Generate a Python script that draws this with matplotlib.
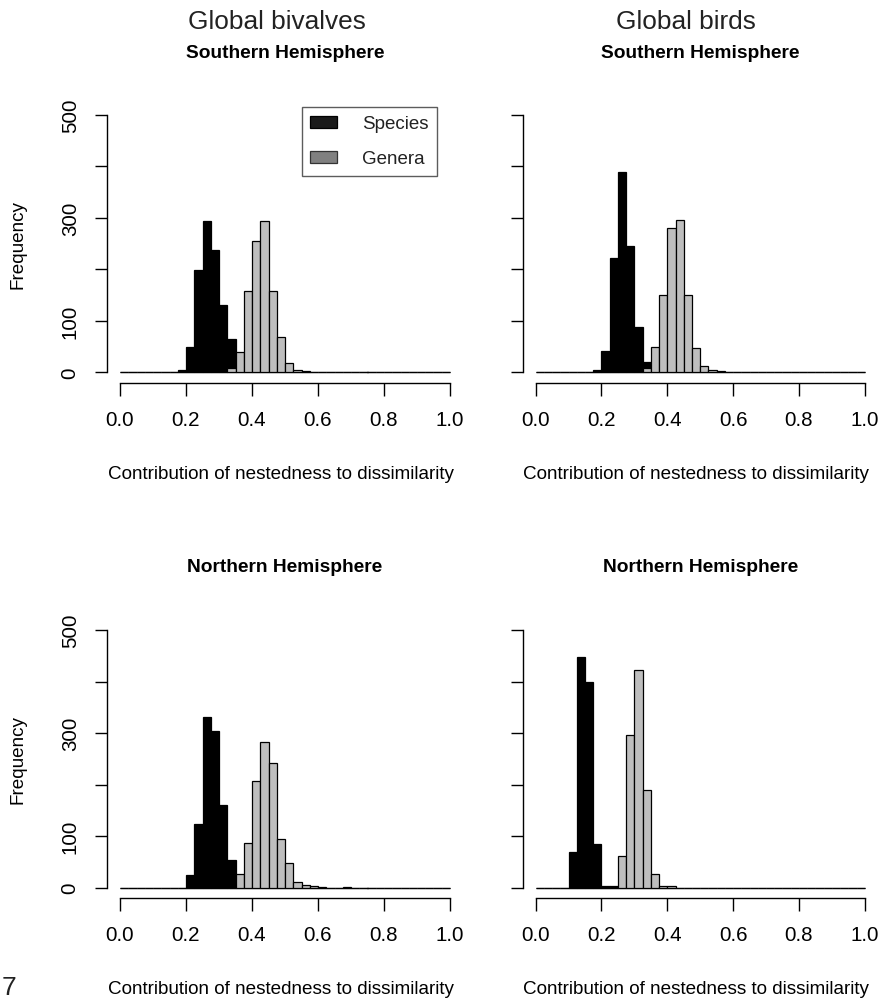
import matplotlib
matplotlib.use("Agg")
import matplotlib.pyplot as plt
from matplotlib.patches import Patch
import numpy as np

plt.rcParams['font.family'] = ['Liberation Sans', 'DejaVu Sans']

# ---------------- data (counts per bin of width 0.025 from 0 to 1) ----------------
bin_width = 0.025
n_bins = 40

bivalves_south_species = [0, 0, 0, 0, 0, 0, 0, 5, 50, 198, 294, 237, 130, 64, 20, 5,
                          0, 0, 0, 0, 0, 0, 0, 0, 0, 0, 0, 0, 0, 0, 0, 0, 0, 0, 0, 0, 0, 0, 0, 0]
bivalves_south_genera = [0, 0, 0, 0, 0, 0, 0, 0, 0, 0, 0, 0, 0, 8, 39, 158, 256, 294, 158, 68,
                         18, 4, 3, 0, 1, 0, 0, 0, 0, 0, 0, 0, 0, 0, 0, 0, 0, 0, 0, 0]
birds_south_species = [0, 0, 0, 0, 0, 0, 0, 4, 41, 222, 389, 245, 88, 21, 5, 0,
                       0, 0, 0, 0, 0, 0, 0, 0, 0, 0, 0, 0, 0, 0, 0, 0, 0, 0, 0, 0, 0, 0, 0, 0]
birds_south_genera = [0, 0, 0, 0, 0, 0, 0, 0, 0, 0, 0, 0, 0, 9, 49, 151, 281, 296, 150, 48,
                      13, 5, 3, 1, 0, 0, 0, 0, 0, 0, 0, 0, 0, 0, 0, 0, 0, 0, 0, 0]
bivalves_north_species = [0, 0, 0, 0, 0, 0, 0, 0, 25, 123, 332, 304, 160, 54, 15, 0,
                          0, 0, 0, 0, 0, 0, 0, 0, 0, 0, 0, 0, 0, 0, 0, 0, 0, 0, 0, 0, 0, 0, 0, 0]
bivalves_north_genera = [0, 0, 0, 0, 0, 0, 0, 0, 0, 0, 0, 0, 0, 0, 26, 87, 207, 283, 242, 95,
                         47, 11, 5, 3, 2, 0, 0, 1, 0, 0, 0, 0, 0, 0, 0, 0, 0, 0, 0, 0]
birds_north_species = [0, 0, 0, 0, 70, 448, 399, 85, 4, 3, 0, 0, 0, 0, 0, 0,
                       0, 0, 0, 0, 0, 0, 0, 0, 0, 0, 0, 0, 0, 0, 0, 0, 0, 0, 0, 0, 0, 0, 0, 0]
birds_north_genera = [0, 0, 0, 0, 0, 0, 0, 0, 0, 2, 61, 296, 422, 189, 26, 4, 3,
                      0, 0, 0, 0, 0, 0, 0, 0, 0, 0, 0, 0, 0, 0, 0, 0, 0, 0, 0, 0, 0, 0, 0]

column_titles = ["Global bivalves", "Global birds"]
panel_titles = ["Southern Hemisphere", "Northern Hemisphere"]
x_ticks = [0.0, 0.2, 0.4, 0.6, 0.8, 1.0]
x_tick_labels = ["0.0", "0.2", "0.4", "0.6", "0.8", "1.0"]
y_ticks = [0, 100, 200, 300, 400, 500]
y_tick_labels = ["0", "100", "", "300", "", "500"]
x_label = "Contribution of nestedness to dissimilarity"
y_label = "Frequency"
legend_labels = ["Species", "Genera"]

# ---------------- figure ----------------
W, H = 882, 1003
fig = plt.figure(figsize=(W / 100, H / 100), dpi=100)


def px_box(left, right, top, bottom):
    return [left / W, 1 - bottom / H, (right - left) / W, (bottom - top) / H]


def fx(x):
    return x / W


def fy(y):
    return 1 - y / H


boxes = {
    (0, 0): px_box(106.8, 463.2, 105.7, 383.6),
    (0, 1): px_box(522.5, 877.9, 105.7, 383.6),
    (1, 0): px_box(106.8, 463.2, 620.7, 899.0),
    (1, 1): px_box(522.5, 877.9, 620.7, 899.0),
}
data = {
    (0, 0): (bivalves_south_species, bivalves_south_genera),
    (0, 1): (birds_south_species, birds_south_genera),
    (1, 0): (bivalves_north_species, bivalves_north_genera),
    (1, 1): (birds_north_species, birds_north_genera),
}

lefts = np.arange(n_bins) * bin_width
axes = {}
for key, box in boxes.items():
    ax = fig.add_axes(box)
    axes[key] = ax
    sp, ge = data[key]
    ax.bar(lefts, sp, width=bin_width, align='edge', color='black',
           edgecolor='black', linewidth=0.9)
    ax.bar(lefts, ge, width=bin_width, align='edge', color='#bebebe',
           edgecolor='black', linewidth=0.9)
    ax.set_xlim(-0.04, 1.04)
    ax.set_ylim(-20, 520)
    for s in ['top', 'right']:
        ax.spines[s].set_visible(False)
    ax.spines['bottom'].set_bounds(0, 1)
    ax.spines['left'].set_bounds(0, 500)
    ax.spines['bottom'].set_linewidth(1.0)
    ax.spines['left'].set_linewidth(1.0)
    ax.set_xticks(x_ticks)
    ax.set_xticklabels(x_tick_labels)
    ax.set_yticks(y_ticks)
    if key[1] == 0:
        ax.set_yticklabels(y_tick_labels)
    else:
        ax.set_yticklabels([""] * len(y_ticks))
    ax.tick_params(axis='x', length=9.2, width=1.0, pad=10.5, labelsize=14.8)
    ax.tick_params(axis='y', length=9.0, width=1.0, pad=10.5, labelsize=14.8,
                   labelrotation=90)
    for lab in ax.get_yticklabels():
        lab.set_va('center')
    ax.patch.set_visible(False)

# texts
col_centers = [285.0, 700.2]
title_x = [277.0, 686.0]
for c in range(2):
    fig.text(fx(title_x[c]), fy(22), column_titles[c], ha='center', va='center',
             fontsize=18.9, color='#222222')
    for r in range(2):
        dy = 515 * r
        fig.text(fx(col_centers[c]), fy(53 + dy), panel_titles[r], ha='center',
                 va='center', fontsize=13.8, fontweight='bold')
        fig.text(fx(col_centers[c] - 4), fy(475 + dy), x_label, ha='center',
                 va='center', fontsize=13.6)
for r in range(2):
    fig.text(fx(18), fy(245 + 515 * r), y_label, ha='center', va='center',
             rotation=90, fontsize=13.6)

# legend
handles = [Patch(facecolor='#1a1a1a', edgecolor='black', linewidth=0.9),
           Patch(facecolor='#808080', edgecolor='#333333', linewidth=0.9)]
leg = axes[(0, 0)].legend(handles, legend_labels, loc='upper left',
                          bbox_to_anchor=(fx(302), fy(108)),
                          bbox_transform=fig.transFigure,
                          fontsize=13.5, frameon=True, fancybox=False,
                          borderpad=0.45, handlelength=1.39, handleheight=0.6,
                          handletextpad=1.35, labelspacing=0.95,
                          borderaxespad=0.0)
leg.get_frame().set_edgecolor('#333333')
leg.get_frame().set_linewidth(1.0)
for t in leg.get_texts():
    t.set_color('#222222')

# page number fragment
fig.text(fx(2), fy(976), "7", ha='left', va='top', fontsize=19,
         color='#222222')

fig.savefig("out.png", dpi=100)
